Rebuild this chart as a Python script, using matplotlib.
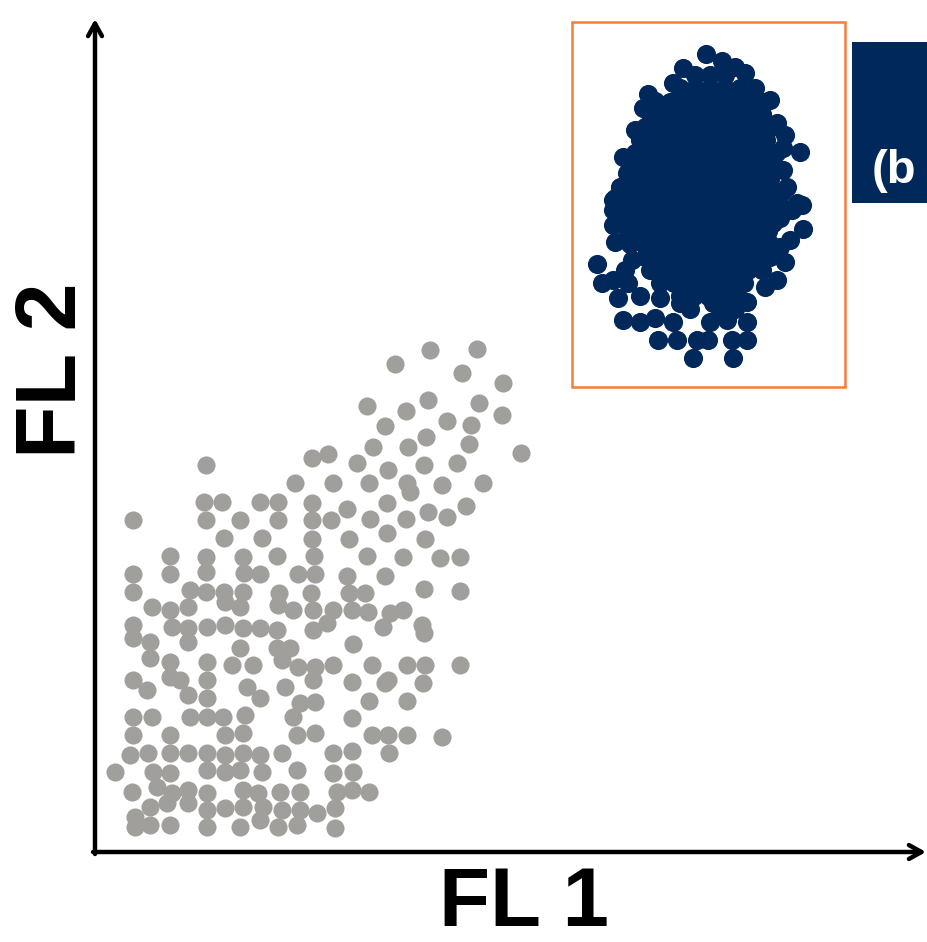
import matplotlib.pyplot as plt
from matplotlib.patches import Rectangle

# gray population (FL1, FL2), arbitrary fluorescence units
gray_pts = [
    (335, 502), (382, 503), (300, 488), (367, 479), (408, 469), (272, 446), (333, 452),
    (311, 441), (384, 449), (407, 437), (290, 426), (352, 431), (376, 427), (331, 415),
    (278, 405), (313, 405), (374, 408), (426, 399), (217, 394), (233, 398), (262, 389),
    (293, 382), (329, 387), (362, 389), (200, 369), (238, 369), (274, 369), (312, 369),
    (315, 360), (347, 367), (388, 369), (217, 349), (252, 343), (292, 349), (333, 340),
    (352, 335), (371, 346), (217, 332), (236, 332), (275, 333), (311, 333), (217, 313),
    (254, 313), (292, 319), (330, 313), (219, 296), (272, 296), (308, 295), (345, 294),
    (365, 295), (203, 278), (220, 278), (252, 276), (290, 276), (216, 259), (254, 259),
    (270, 259), (329, 263), (365, 261),
    (111, 387), (38, 332), (109, 350), (127, 350), (165, 350), (183, 350), (111, 332),
    (145, 332), (183, 332), (129, 314), (167, 314), (75, 296), (111, 295), (148, 295),
    (182, 296), (38, 278), (75, 278), (111, 280), (149, 279), (165, 278), (38, 260),
    (95, 262), (111, 260), (129, 260), (148, 260), (184, 259),
    (57, 245), (75, 242), (93, 245), (130, 250), (145, 245), (183, 247), (198, 242),
    (38, 227), (77, 225), (93, 224), (112, 225), (130, 227), (148, 224), (165, 224),
    (182, 222), (218, 222), (38, 214), (55, 210), (93, 210), (145, 204), (182, 204),
    (195, 204), (55, 194), (75, 190), (112, 190), (137, 187), (158, 187), (187, 192),
    (203, 185), (220, 185), (38, 172), (52, 162), (75, 175), (85, 172), (112, 172),
    (93, 157), (112, 154), (152, 165), (165, 154), (190, 165), (205, 149), (38, 135),
    (57, 135), (95, 135), (112, 135), (128, 135), (150, 137), (198, 135), (38, 117),
    (75, 117), (130, 117), (148, 119), (202, 117), (35, 97), (53, 99), (75, 99),
    (93, 99), (112, 99), (130, 97), (148, 99), (165, 97), (187, 99), (20, 80), (58, 80),
    (75, 79), (112, 82), (130, 80), (145, 82), (167, 80), (202, 82), (37, 60), (62, 65),
    (77, 59), (93, 62), (112, 59), (148, 62), (163, 59), (185, 60), (205, 60), (55, 45),
    (72, 49), (93, 49), (112, 42), (130, 44), (148, 45), (168, 45), (187, 42), (205, 42),
    (40, 35), (55, 27), (75, 27), (112, 25), (145, 25), (165, 32), (183, 25), (202, 27),
    (222, 39), (40, 25),
    (238, 242), (257, 242), (273, 240), (218, 242), (295, 239), (308, 242), (232, 229),
    (288, 225), (327, 227), (329, 219), (258, 208), (238, 187), (277, 187), (312, 187),
    (330, 187), (365, 187), (218, 172), (257, 170), (293, 172), (290, 169), (328, 169),
    (220, 150), (274, 151), (312, 151), (257, 134), (220, 119), (277, 117), (293, 117),
    (312, 117), (347, 115), (294, 99), (238, 99), (257, 101), (238, 79), (258, 80),
    (242, 60), (257, 62), (274, 60), (240, 44), (240, 24),
]

# navy population (gated), edge dots then the dense core
navy_pts = [
    (611, 798), (627, 791), (640, 785), (650, 779), (588, 784), (578, 769), (553, 758),
    (548, 744), (575, 750), (567, 735), (540, 722), (528, 695), (532, 679), (525, 665),
    (520, 654), (675, 752), (682, 729), (690, 717), (688, 704), (705, 700), (688, 682),
    (692, 665), (702, 649), (658, 752), (562, 710), (645, 762),
    (518, 652), (518, 642), (518, 627), (520, 610), (502, 588), (507, 569), (537, 592),
    (518, 572), (523, 554), (528, 532), (545, 530), (560, 534), (563, 512), (582, 512),
    (598, 494), (578, 530), (602, 512), (613, 512), (615, 530), (632, 532), (637, 512),
    (652, 512), (638, 494), (652, 530), (652, 550), (670, 565), (682, 572), (565, 554),
    (585, 549), (618, 549), (690, 590), (695, 612), (707, 647), (697, 642), (708, 623),
    (678, 629), (685, 605),
    (600, 777), (615, 777), (630, 777),
    (585, 764), (600, 764), (615, 764), (630, 764), (645, 764), (660, 764),
    (560, 751), (590, 751), (605, 751), (620, 751), (635, 751), (650, 751), (665, 751),
    (555, 738), (583, 738), (597, 738), (611, 738), (625, 738), (639, 738), (653, 738),
    (667, 738),
    (550, 725), (565, 725), (579, 725), (593, 725), (607, 725), (621, 725), (635, 725),
    (649, 725), (663, 725), (677, 725),
    (545, 712), (559, 712), (573, 712), (587, 712), (601, 712), (615, 712), (629, 712),
    (643, 712), (657, 712), (671, 712),
    (540, 699), (555, 699), (569, 699), (583, 699), (597, 699), (611, 699), (625, 699),
    (639, 699), (653, 699), (667, 699), (681, 699),
    (537, 686), (551, 686), (565, 686), (579, 686), (593, 686), (607, 686), (621, 686),
    (635, 686), (649, 686), (663, 686), (677, 686),
    (535, 673), (549, 673), (563, 673), (577, 673), (591, 673), (605, 673), (619, 673),
    (633, 673), (647, 673), (661, 673), (675, 673),
    (533, 660), (547, 660), (561, 660), (575, 660), (589, 660), (603, 660), (617, 660),
    (631, 660), (645, 660), (659, 660), (673, 660), (687, 660),
    (531, 647), (545, 647), (559, 647), (573, 647), (587, 647), (601, 647), (615, 647),
    (629, 647), (643, 647), (657, 647), (671, 647), (685, 647),
    (531, 634), (545, 634), (559, 634), (573, 634), (587, 634), (601, 634), (615, 634),
    (629, 634), (643, 634), (657, 634), (671, 634), (685, 634),
    (533, 621), (547, 621), (561, 621), (575, 621), (589, 621), (603, 621), (617, 621),
    (631, 621), (645, 621), (659, 621), (673, 621),
    (535, 608), (549, 608), (563, 608), (577, 608), (591, 608), (605, 608), (619, 608),
    (633, 608), (647, 608), (661, 608), (675, 608),
    (550, 595), (565, 595), (579, 595), (593, 595), (607, 595), (621, 595), (635, 595),
    (649, 595), (663, 595), (675, 595),
    (530, 582), (555, 582), (569, 582), (583, 582), (597, 582), (611, 582), (625, 582),
    (639, 582), (653, 582), (667, 582),
    (533, 569), (565, 569), (579, 569), (593, 569), (607, 569), (621, 569), (635, 569),
    (649, 569),
    (545, 556), (585, 556), (599, 556), (613, 556), (627, 556), (641, 556),
    (595, 543), (625, 543), (640, 543),
]

gray_fl1 = [p[0] for p in gray_pts]
gray_fl2 = [p[1] for p in gray_pts]
navy_fl1 = [p[0] for p in navy_pts]
navy_fl2 = [p[1] for p in navy_pts]

GRAY = "#a19f9b"
NAVY = "#00285a"
ORANGE = "#f47d3b"

fig = plt.figure(figsize=(9.28, 9.42), dpi=100)
ax = fig.add_axes([0, 0, 1, 1])
ax.set_xlim(-95, 833)
ax.set_ylim(-90, 852)
ax.axis("off")

ax.scatter(gray_fl1, gray_fl2, s=170, c=GRAY, linewidths=0, zorder=2)
ax.scatter(navy_fl1, navy_fl2, s=190, c=NAVY, linewidths=0, zorder=3)

# gate box
ax.add_patch(Rectangle((477, 465), 273, 365, fill=False, ec=ORANGE, lw=1.8, zorder=4))

# axes as arrows
arrow_kw = dict(arrowstyle="->,head_length=0.9,head_width=0.5", lw=3.2, color="black",
                shrinkA=0, shrinkB=0)
ax.annotate("", xy=(831, 0), xytext=(-2, 0), arrowprops=arrow_kw)
ax.annotate("", xy=(0, 833), xytext=(0, -2), arrowprops=arrow_kw)

ax.text(429, -74, "FL 1", ha="center", va="baseline", fontsize=60,
        fontweight="bold", family="Liberation Sans")
ax.text(-41, 482, "FL 2", ha="center", va="center", fontsize=62, rotation=90,
        fontweight="bold", family="Liberation Sans")

# clipped side label
ax.add_patch(Rectangle((757, 649), 100, 161, fc=NAVY, ec="none", clip_on=True))
ax.text(777, 681, "(b", ha="left", va="center", fontsize=34, color="white",
        fontweight="bold", family="Liberation Sans")

fig.savefig("out.png", dpi=100)
